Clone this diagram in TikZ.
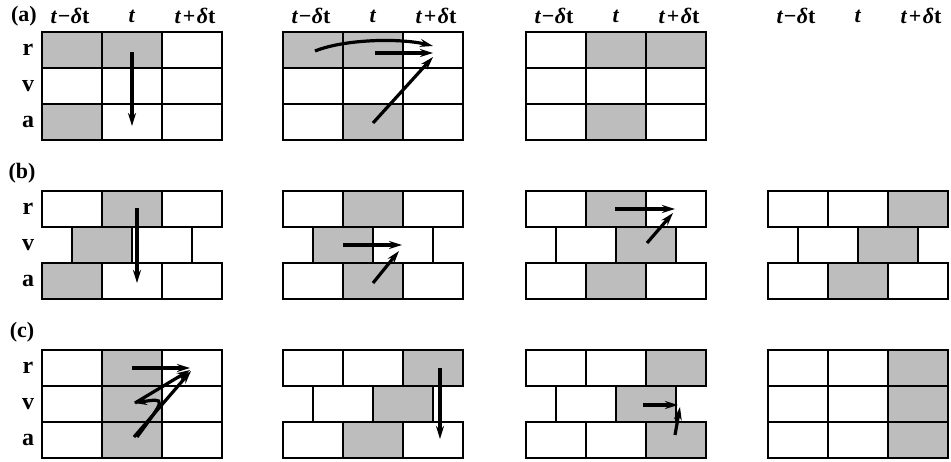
\documentclass[tikz,border=0pt]{standalone}
\usepackage{fontspec}
\setmainfont{Liberation Serif}
\usetikzlibrary{arrows.meta,backgrounds,calc}
\definecolor{cellgray}{gray}{0.74}
\tikzset{
  cell/.style={draw, line width=2.5pt, minimum width=60pt, minimum height=36pt, inner sep=0pt, outer sep=0pt},
  flow/.style={line width=3.2pt, -{Stealth[length=13pt,width=8pt]}},
  lbl/.style={font=\fontsize{24}{24}\selectfont\bfseries, inner sep=0pt},
  hdr/.style={font=\fontsize{22}{22}\selectfont\bfseries, inner sep=0pt},
  plbl/.style={font=\fontsize{22}{22}\selectfont\bfseries, inner sep=0pt},
}
\newcommand\rectgrid[3]{%
  \foreach \rr in {0,1,2}{\foreach \cc in {0,1,2}{%
    \node[cell] (#1\rr\cc) at ({#2+30+60*\cc},{#3+18+36*\rr}) {};}}}
\newcommand\brickgrid[3]{%
  \foreach \rr in {0,2}{\foreach \cc in {0,1,2}{%
    \node[cell] (#1\rr\cc) at ({#2+30+60*\cc},{#3+18+36*\rr}) {};}}%
  \foreach \cc in {0,1}{\node[cell] (#1v\cc) at ({#2+60+60*\cc},{#3+54}) {};}}
\newcommand\shadecell[1]{\fill[cellgray] (#1.south west) rectangle (#1.north east);}
\newcommand\tm{\textit{t}\kern0.5pt−\kern0.5pt\textit{δ}t}
\newcommand\tp{\textit{t}\kern1.5pt+\kern1.5pt\textit{δ}t}
\begin{document}
\begin{tikzpicture}[x=1pt,y=-1pt]
\useasboundingbox (0,0) rectangle (951,462);
% headers
\foreach \xo [count=\i] in {42,283,526,768}{
  \node[hdr] (h\i m) at ({\xo+28},16) {\tm};
  \node[hdr] (h\i c) at ({\xo+90},16) {\textit{t}};
  \node[hdr] (h\i p) at ({\xo+153},16) {\tp};
}
\node[plbl] (la) at (24,16) {(a)};
\node[plbl] (lb) at (22,173) {(b)};
\node[plbl] (lc) at (22,332) {(c)};
\foreach \yo/\n in {32/a,191/b,350/c}{
  \node[lbl] (r\n) at (28,{\yo+18}) {r};
  \node[lbl] (v\n) at (28,{\yo+54}) {v};
  \node[lbl] (a\n) at (28,{\yo+90}) {a};
}
% grids
\rectgrid{aA}{42}{32}
\rectgrid{aB}{283}{32}
\rectgrid{aC}{526}{32}
\brickgrid{bA}{42}{191}
\brickgrid{bB}{283}{191}
\brickgrid{bC}{526}{191}
\brickgrid{bD}{768}{191}
\rectgrid{cA}{42}{350}
\brickgrid{cB}{283}{350}
\brickgrid{cC}{526}{350}
\rectgrid{cD}{768}{350}
\begin{pgfonlayer}{background}
\shadecell{aA00}\shadecell{aA01}\shadecell{aA20}
\shadecell{aB00}\shadecell{aB01}\shadecell{aB21}
\shadecell{aC01}\shadecell{aC02}\shadecell{aC21}
\shadecell{bA01}\shadecell{bAv0}\shadecell{bA20}
\shadecell{bB01}\shadecell{bBv0}\shadecell{bB21}
\shadecell{bC01}\shadecell{bCv1}\shadecell{bC21}
\shadecell{bD02}\shadecell{bDv1}\shadecell{bD21}
\shadecell{cA01}\shadecell{cA11}\shadecell{cA21}
\shadecell{cB02}\shadecell{cBv1}\shadecell{cB21}
\shadecell{cC02}\shadecell{cCv1}\shadecell{cC22}
\shadecell{cD02}\shadecell{cD12}\shadecell{cD22}
\end{pgfonlayer}
% arrows (a)
\draw[flow] ($(aA01)+(0,2)$) -- ($(aA21)+(0,4)$);
\draw[flow] ($(aB00)+(2,1)$) .. controls (345,39) and (400,38) .. ($(aB02)+(0,-4)$);
\draw[flow] ($(aB01)+(2,3)$) -- ($(aB02)+(0,3)$);
\draw[flow] ($(aB21)+(0,1)$) -- ($(aB02)+(0,7)$);
% arrows (b)
\draw[flow] ($(bA01)+(5,-1)$) -- ($(bA21)+(5,2)$);
\draw[flow] ($(bBv0)+(0,0)$) -- ($(bBv1)+(-1,0)$);
\draw[flow] ($(bB21)+(0,2)$) -- ($(bBv1)+(-4,6)$);
\draw[flow] ($(bC01)+(-1,0)$) -- ($(bC02)+(-1,0)$);
\draw[flow] ($(bCv1)+(1,-2)$) -- ($(bC02)+(-3,4)$);
% arrows (c)
\draw[flow] ($(cA01)+(0,0)$) -- ($(cA02)+(-2,0)$);
\draw[flow] ($(cA11)+(3,-1)$) -- ($(cA02)+(-2,2)$);
\draw[flow] ($(cA21)+(2,-3)$) -- ($(cA02)+(-1,3)$);
\draw[flow] ($(cA21)+(5,-3)$) .. controls (166,398) .. ($(cA11)+(2,-1)$);
\draw[flow] ($(cB02)+(7,0)$) -- ($(cB22)+(7,-1)$);
\draw[flow] ($(cCv1)+(-3,1)$) -- ($(cCv1.east)+(2,1)$);
\draw[flow] ($(cC22)+(-1,-5)$) -- ($(cCv1.east)+(4,3)$);
\end{tikzpicture}
\end{document}
